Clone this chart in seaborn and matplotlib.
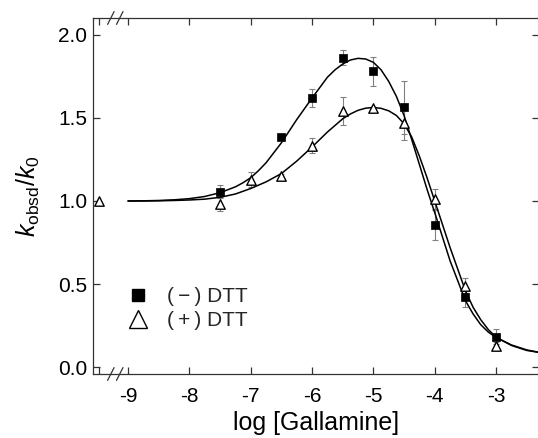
import numpy as np
import pandas as pd
import matplotlib
matplotlib.use("Agg")
import matplotlib.pyplot as plt
import matplotlib.transforms as mtransforms
from matplotlib.lines import Line2D
import seaborn as sns

# ---------------- data ----------------
# (-) DTT : filled squares
minus_x = [-7.5, -6.5, -6.0, -5.5, -5.0, -4.5, -4.0, -3.5, -3.0]
minus_y = [1.055, 1.383, 1.62, 1.863, 1.78, 1.565, 0.853, 0.424, 0.183]
minus_err = [0.04, 0.012, 0.055, 0.047, 0.09, 0.16, 0.09, 0.06, 0.045]

# (+) DTT : open triangles (first point = control, drawn left of the axis break)
plus_x = [-9.48, -7.5, -7.0, -6.5, -6.0, -5.5, -5.0, -4.5, -4.0, -3.5, -3.0]
plus_y = [1.0, 0.982, 1.127, 1.15, 1.333, 1.542, 1.558, 1.468, 1.012, 0.49, 0.128]
plus_err = [0.0, 0.042, 0.045, 0.015, 0.045, 0.087, 0.01, 0.1, 0.06, 0.045, 0.02]

# fitted curves
curve_x_minus = [-9.0, -8.75, -8.5, -8.25, -8.0, -7.75, -7.5, -7.25, -7.125, -7.0, -6.875,
                 -6.75, -6.5, -6.25, -6.0, -5.75, -5.625, -5.5, -5.375, -5.25, -5.125,
                 -5.0, -4.875, -4.75, -4.625, -4.5, -4.375, -4.25, -4.125, -4.0, -3.75,
                 -3.5, -3.375, -3.25, -3.125, -3.0, -2.75, -2.5, -2.25]
curve_y_minus = [1.000, 1.001, 1.003, 1.007, 1.014, 1.027, 1.050, 1.085, 1.110, 1.140, 1.182,
                 1.230, 1.350, 1.490, 1.620, 1.745, 1.790, 1.825, 1.849, 1.859, 1.855,
                 1.835, 1.790, 1.720, 1.630, 1.515, 1.370, 1.220, 1.070, 0.930, 0.640,
                 0.400, 0.320, 0.255, 0.210, 0.178, 0.133, 0.103, 0.085]

curve_x_plus = [-9.0, -8.75, -8.5, -8.25, -8.0, -7.75, -7.5, -7.25, -7.0, -6.75, -6.5,
                -6.25, -6.0, -5.75, -5.5, -5.375, -5.25, -5.125, -5.0, -4.875, -4.75,
                -4.625, -4.5, -4.375, -4.25, -4.125, -4.0, -3.75, -3.5, -3.375, -3.25,
                -3.125, -3.0, -2.75, -2.5, -2.25]
curve_y_plus = [1.000, 1.000, 1.001, 1.003, 1.006, 1.011, 1.022, 1.042, 1.075, 1.115, 1.165,
                1.240, 1.325, 1.415, 1.495, 1.524, 1.546, 1.559, 1.563, 1.558, 1.543,
                1.515, 1.465, 1.385, 1.270, 1.140, 1.000, 0.720, 0.460, 0.360, 0.285,
                0.225, 0.180, 0.130, 0.100, 0.085]

x_ticks = [-9.48, -9, -8, -7, -6, -5, -4, -3]
x_tick_labels = ["", "-9", "-8", "-7", "-6", "-5", "-4", "-3"]
y_ticks = [0.0, 0.5, 1.0, 1.5, 2.0]
y_tick_labels = ["0.0", "0.5", "1.0", "1.5", "2.0"]
legend_labels = ["(\u2009\u2212\u2009) DTT", "(\u2009+\u2009) DTT"]

# ---------------- style ----------------
sns.set_theme(style="ticks")
plt.rcParams["font.family"] = ["Liberation Sans", "DejaVu Sans"]
plt.rcParams["mathtext.fontset"] = "custom"
plt.rcParams["mathtext.rm"] = "Liberation Sans"
plt.rcParams["mathtext.it"] = "Liberation Sans:italic"
plt.rcParams["mathtext.bf"] = "Liberation Sans:bold"

fig = plt.figure(figsize=(5.38, 4.38), dpi=100)
fig.patch.set_facecolor("white")
ax = fig.add_axes([93 / 538, 64 / 438, 446 / 538, 356 / 438])
ax.set_facecolor("white")

df_minus = pd.DataFrame({"x": minus_x, "y": minus_y, "err": minus_err})
df_plus = pd.DataFrame({"x": plus_x, "y": plus_y, "err": plus_err})
df_cm = pd.DataFrame({"x": curve_x_minus, "y": curve_y_minus})
df_cp = pd.DataFrame({"x": curve_x_plus, "y": curve_y_plus})

# error bars
ax.errorbar(df_minus["x"], df_minus["y"], yerr=df_minus["err"], fmt="none",
            ecolor="#808080", elinewidth=0.8, capsize=2.5, capthick=0.8, zorder=2)
pe = df_plus[df_plus["err"] > 0]
ax.errorbar(pe["x"], pe["y"], yerr=pe["err"], fmt="none",
            ecolor="#808080", elinewidth=0.8, capsize=2.5, capthick=0.8, zorder=2)

# curves
sns.lineplot(data=df_cm, x="x", y="y", color="black", lw=1.1, ax=ax,
             sort=False, estimator=None, zorder=3)
sns.lineplot(data=df_cp, x="x", y="y", color="black", lw=1.1, ax=ax,
             sort=False, estimator=None, zorder=3)

# markers
sns.scatterplot(data=df_minus, x="x", y="y", marker="s", s=26, color="black",
                edgecolor="black", linewidth=0.5, ax=ax, zorder=5)
sns.scatterplot(data=df_plus, x="x", y="y", marker="^", s=46, color="white",
                edgecolor="black", linewidth=1.0, ax=ax, zorder=5)

# axes
ax.set_xlim(-9.571, -2.30)
ax.set_ylim(-0.042, 2.102)
ax.set_xticks(x_ticks)
ax.set_xticklabels(x_tick_labels)
ax.set_yticks(y_ticks)
ax.set_yticklabels(y_tick_labels)
ax.tick_params(axis="both", which="both", direction="in", length=5, width=0.9,
               top=True, right=True, labelsize=15, color="#333333", labelcolor="black")
ax.tick_params(axis="x", pad=9)
ax.tick_params(axis="y", pad=4)
for sp in ax.spines.values():
    sp.set_visible(True)
    sp.set_linewidth(0.9)
    sp.set_color("#333333")

ax.set_xlabel("log [Gallamine]", fontsize=18, labelpad=4, color="black")
ax.set_ylabel(r"$k_{\mathrm{obsd}}/k_{\mathrm{0}}$", fontsize=18, labelpad=12, color="black")

# axis break marks
trans = mtransforms.blended_transform_factory(ax.transData, ax.transAxes)
for xc in (-9.28, -9.135):
    for yc in (0.0, 1.0):
        ax.plot([xc - 0.053, xc + 0.053], [yc - 0.018, yc + 0.018], color="#333333",
                lw=0.9, transform=trans, clip_on=False, zorder=6)

# legend
handles = [
    Line2D([], [], marker="s", ls="none", color="black", markersize=8.5),
    Line2D([], [], marker="^", ls="none", markerfacecolor="white",
           markeredgecolor="black", markeredgewidth=1.0, markersize=13),
]
ax.legend(handles, legend_labels, loc="center left", bbox_to_anchor=(0.0727, 0.184),
          frameon=False, fontsize=15, handlelength=1.2, handletextpad=0.8,
          labelspacing=0.25, borderpad=0, borderaxespad=0)

fig.savefig("out.png", dpi=100, facecolor="white")
